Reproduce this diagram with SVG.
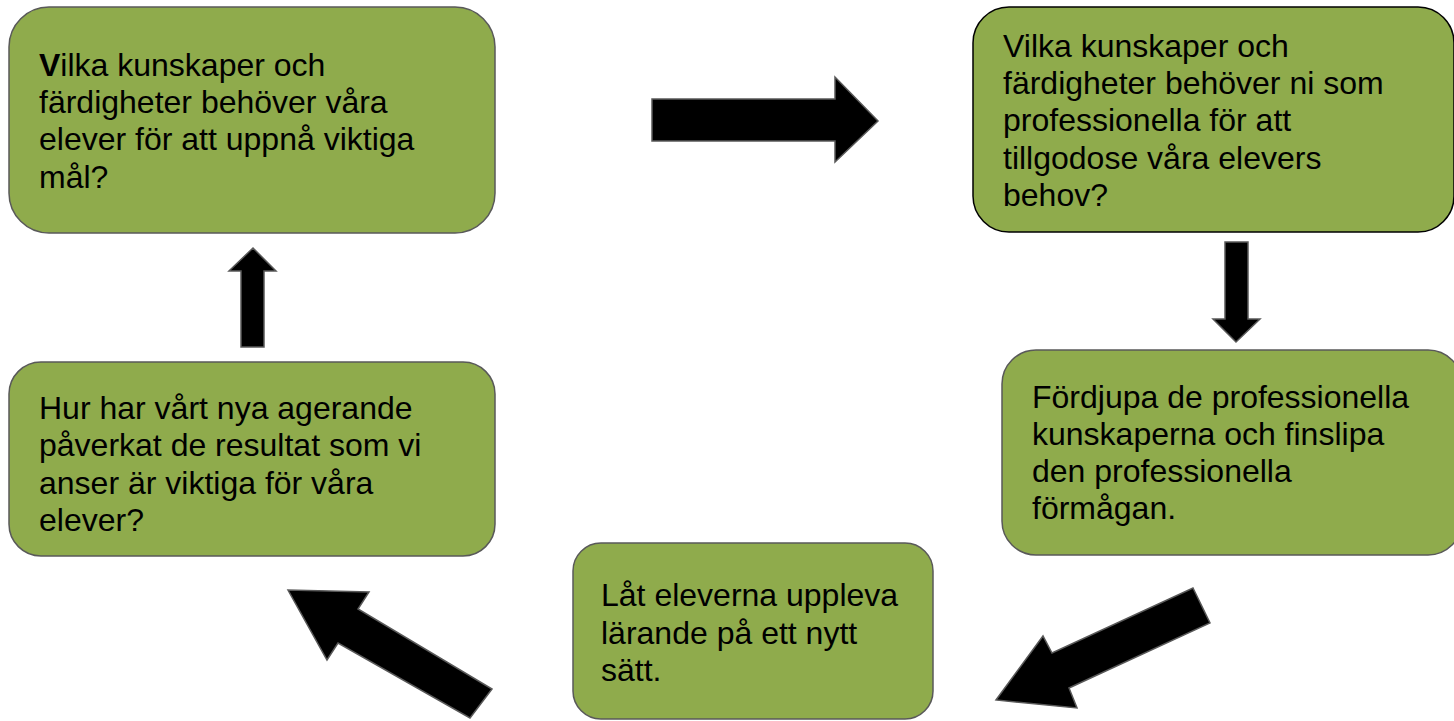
<svg xmlns="http://www.w3.org/2000/svg" width="1454" height="721" viewBox="0 0 1454 721">
<style>
.box{fill:#8fab4c;stroke:#595959;stroke-width:1.5}
.dark{stroke:#000}
.t{font-family:"Liberation Sans",Arial,sans-serif;font-size:32px;fill:#000}
.arr{fill:#000;stroke:#595959;stroke-width:1.5;stroke-linejoin:miter}
</style>
<rect width="1454" height="721" fill="#fff"/>
<g id="n1">
<rect class="box" x="9" y="7" width="486" height="226" rx="40"/>
<text class="t" x="39"><tspan x="39" y="76"><tspan font-weight="bold">V</tspan>ilka kunskaper och</tspan><tspan x="39" y="113">färdigheter behöver våra</tspan><tspan x="39" y="150">elever för att uppnå viktiga</tspan><tspan x="39" y="188">mål?</tspan></text>
</g>
<g id="n2">
<rect class="box dark" x="973" y="7" width="481" height="225" rx="36"/>
<text class="t"><tspan x="1003" y="57">Vilka kunskaper och</tspan><tspan x="1003" y="94">färdigheter behöver ni som</tspan><tspan x="1003" y="131">professionella för att</tspan><tspan x="1003" y="169">tillgodose våra elevers</tspan><tspan x="1003" y="206">behov?</tspan></text>
</g>
<g id="n3">
<rect class="box" x="1002" y="350" width="460" height="205" rx="34"/>
<text class="t"><tspan x="1032" y="408">Fördjupa de professionella</tspan><tspan x="1032" y="445">kunskaperna och finslipa</tspan><tspan x="1032" y="482">den professionella</tspan><tspan x="1032" y="519">förmågan.</tspan></text>
</g>
<g id="n4">
<rect class="box" x="573" y="543" width="360" height="176" rx="28"/>
<text class="t"><tspan x="601" y="606">Låt eleverna uppleva</tspan><tspan x="601" y="644">lärande på ett nytt</tspan><tspan x="601" y="681">sätt.</tspan></text>
</g>
<g id="n5">
<rect class="box" x="9" y="362" width="486" height="194" rx="32"/>
<text class="t"><tspan x="39" y="419">Hur har vårt nya agerande</tspan><tspan x="39" y="456">påverkat de resultat som vi</tspan><tspan x="39" y="494">anser är viktiga för våra</tspan><tspan x="39" y="531">elever?</tspan></text>
</g>
<g id="connectors">
<polygon class="arr" points="652,99 835,99 835,77 878,121 835,162 835,141 652,141"/>
<polygon class="arr" points="1225,242 1248,242 1248,319 1260,319 1236,342 1213,319 1225,319"/>
<polygon class="arr" points="1193,588 1210,623 1069,688 1077,708 996,700 1043,636 1052,653"/>
<polygon class="arr" points="492,689 470,718 338,643 327,660 288,590 369,592 358,609"/>
<polygon class="arr" points="241,347 264,347 264,271 276,271 253,248 229,271 241,271"/>
</g>
</svg>
